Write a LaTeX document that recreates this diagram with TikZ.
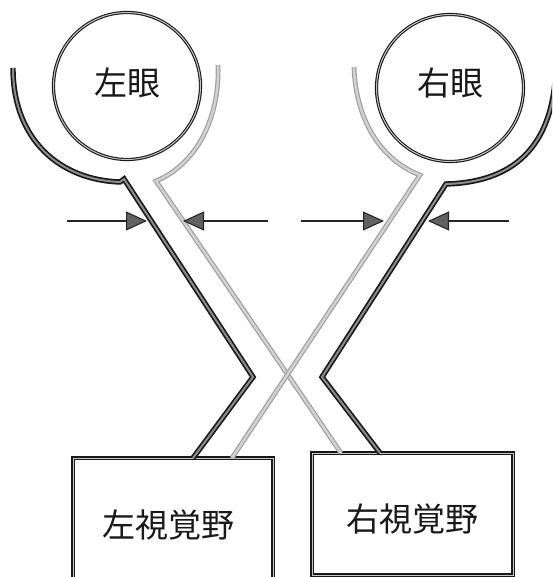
\documentclass[tikz,border=0pt]{standalone}
\usepackage{fontspec}
\newfontfamily\jp{Noto Sans CJK JP}
\usetikzlibrary{arrows.meta}
\begin{document}
\begin{tikzpicture}[x=1pt,y=-1pt,
  eye/.style={circle, draw=black!90, double=gray!45, double distance=1pt, line width=1.1pt,
    minimum size=147pt, inner sep=0pt, font=\jp\fontsize{33}{36}\selectfont},
  area/.style={rectangle, draw=black!90, double=gray!45, double distance=1pt, line width=1.1pt,
    inner sep=0pt, font=\jp\fontsize{33}{36}\selectfont},
  nerve/.style={draw=black!90, double=black!45, double distance=2pt, line width=1.7pt, line join=miter},
  cross/.style={draw=gray!75, double=gray!35, double distance=2.4pt, line width=1.2pt, line join=miter},
  push/.style={draw=black!85, line width=1.1pt, -{Triangle[length=21pt,width=19pt,fill=black!62]}}]
\useasboundingbox (0,0) rectangle (552,577);
\clip (0,0) rectangle (552,577);
\fill[white] (0,0) rectangle (552,577);

% eyes
\node[eye, text height=21pt, text depth=2pt, text=black!90] (leye) at (127,86) {左眼};
\node[eye, text height=18pt, text depth=3pt, text=black!90] (reye) at (450,88) {右眼};

% visual areas
\node[area, minimum width=200pt, minimum height=140pt, text height=21pt, text depth=2pt, text=black!90] (larea) at (173,528) {\hspace*{-10pt}左視覚野};
\node[area, minimum width=201pt, minimum height=122pt, text height=35pt, text depth=0pt, text=black!90] (rarea) at (412.5,514) {右視覚野};

% path coordinates
\coordinate (ldA) at (13,68);
\coordinate (ldB) at (120,182);
\coordinate (ldC) at (124,179);
\coordinate (ldK) at (253,377);
\coordinate (ldE) at (193,458);

\coordinate (rdA) at (556,60);
\coordinate (rdB) at (446,184);
\coordinate (rdK) at (322,377);
\coordinate (rdE) at (380,453);

\coordinate (lgA) at (218,65);
\coordinate (lgB) at (156,181);
\coordinate (lgE) at (341,453);

\coordinate (rgA) at (354,67);
\coordinate (rgB) at (420,175);
\coordinate (rgE) at (232,458);

% crossing (grey) fibres
\draw[cross] (lgA) .. controls (220,120) and (195,165) .. (lgB) -- (lgE);
\draw[cross] (rgA) .. controls (356,125) and (385,162) .. (rgB) -- (rgE);

% uncrossed (dark) fibres
\draw[nerve] (ldA) .. controls (13,140) and (60,180) .. (ldB) -- (ldC) -- (ldK) -- (ldE);
\draw[nerve] (rdA) .. controls (556,140) and (520,182) .. (rdB) -- (rdK) -- (rdE);

% arrows
\coordinate (a1s) at (67,221);  \coordinate (a1t) at (147,221);
\coordinate (a2s) at (268,221); \coordinate (a2t) at (183,221);
\coordinate (a3s) at (301,221); \coordinate (a3t) at (384,221);
\coordinate (a4s) at (509,221); \coordinate (a4t) at (428,221);
\draw[push] (a1s) -- (a1t);
\draw[push] (a2s) -- (a2t);
\draw[push] (a3s) -- (a3t);
\draw[push] (a4s) -- (a4t);
\end{tikzpicture}
\end{document}
